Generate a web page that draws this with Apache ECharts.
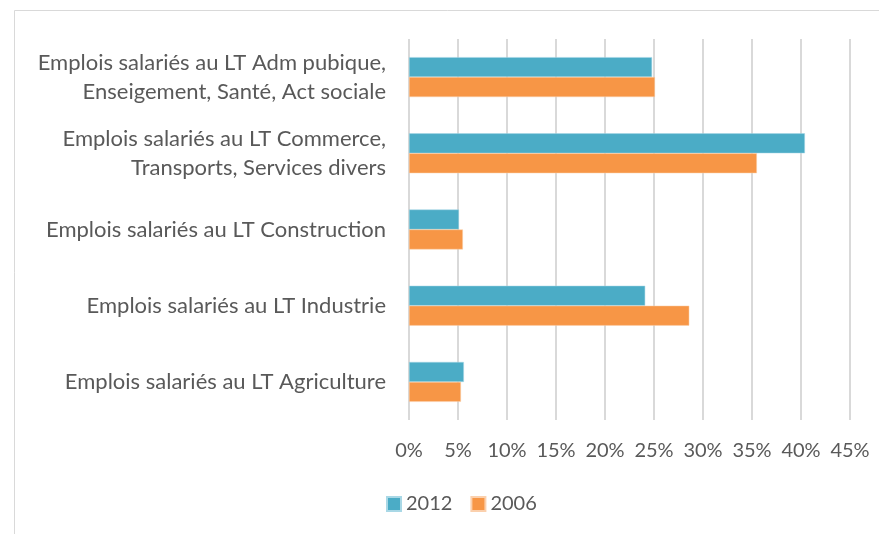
<!DOCTYPE html>
<html>
<head>
<meta charset="utf-8">
<script src="https://cdn.jsdelivr.net/npm/echarts@6/dist/echarts.min.js"></script>
<style>
  html, body { margin: 0; padding: 0; background: #ffffff; }
  #chart { width: 879px; height: 534px; }
</style>
</head>
<body>
<div id="chart"></div>
<script>
// Sectors, listed bottom to top on the category axis
const categories = [
  'Emplois salariés au LT Agriculture',
  'Emplois salariés au LT Industrie',
  'Emplois salariés au LT Construction',
  'Emplois salariés au LT Commerce,\nTransports, Services divers',
  'Emplois salariés au LT Adm pubique,\nEnseigement, Santé, Act sociale'
];
// Share of salaried jobs (%)
const values2012 = [5.6, 24.1, 5.1, 40.4, 24.8];
const values2006 = [5.3, 28.6, 5.5, 35.5, 25.1];
const xTicks = { min: 0, max: 45, step: 5 };

const FONT = 'Lato, "Open Sans", sans-serif';
const TEXT = '#595959';

const chart = echarts.init(document.getElementById('chart'), null, { renderer: 'canvas' });
chart.setOption({
  backgroundColor: '#ffffff',
  animation: false,
  graphic: [{
    type: 'rect',
    shape: { x: 14.5, y: 10.5, width: 900, height: 600 },
    style: { fill: 'none', stroke: '#d9d9d9', lineWidth: 1 },
    silent: true
  }],
  grid: { left: 409, right: 29, top: 39, bottom: 114, containLabel: false },
  legend: {
    data: ['2012', '2006'],
    bottom: 15,
    left: 381,
    icon: 'rect',
    itemWidth: 14,
    itemHeight: 14,
    itemGap: 18,
    textStyle: { color: TEXT, fontSize: 20, fontFamily: FONT }
  },
  xAxis: {
    type: 'value',
    min: xTicks.min,
    max: xTicks.max,
    interval: xTicks.step,
    axisLine: { show: false },
    axisTick: { show: false },
    axisLabel: { formatter: '{value}%', color: TEXT, fontSize: 20, fontFamily: FONT, margin: 21 },
    splitLine: { show: true, lineStyle: { color: '#d9d9d9', width: 2 } }
  },
  yAxis: {
    type: 'category',
    data: categories,
    axisLine: { show: false },
    axisTick: { show: false },
    axisLabel: { color: TEXT, fontSize: 22, fontFamily: FONT, margin: 23, align: 'right', lineHeight: 29 }
  },
  series: [
    {
      name: '2012', type: 'bar', data: values2012,
      itemStyle: { color: '#4bacc6', borderColor: '#a9d8e6', borderWidth: 0.5 },
      barGap: '0%', barCategoryGap: '47.6%'
    },
    {
      name: '2006', type: 'bar', data: values2006,
      itemStyle: { color: '#f79646', borderColor: '#fbd0ad', borderWidth: 0.5 },
      barGap: '0%', barCategoryGap: '47.6%'
    }
  ]
});
</script>
</body>
</html>
